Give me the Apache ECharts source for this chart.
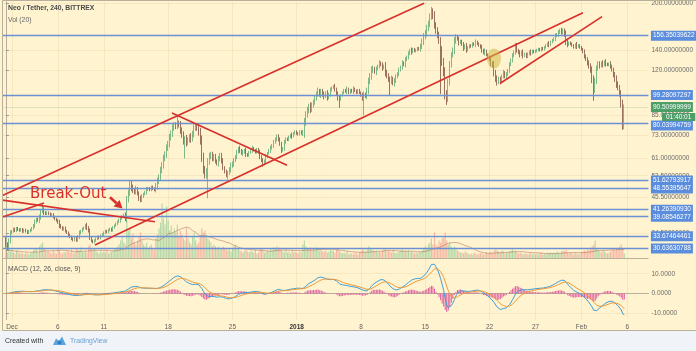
<!DOCTYPE html>
<html>
<head>
<meta charset="utf-8">
<title>Neo / Tether, 240, BITTREX</title>
<script src="https://cdn.jsdelivr.net/npm/echarts@6.0.0/dist/echarts.min.js"></script>
<style>
  html, body { margin: 0; padding: 0; background: #fff; }
  #chart { width: 696px; height: 351px; }
</style>
</head>
<body>
<div id="chart"></div>
<script>
// 4h candles. index 0 = Nov 30 08:00, index 4 = Dec 1 00:00, 6 candles a day
const firstOpen = 32.8;
const closes = [
  31.5, 30.8, 32.5, 34.5,                 // Nov 30
  35, 35.6, 35.1, 35.8, 35.4, 35.2,       // Dec 1
  35.5, 34.9, 35.3, 35, 34.6, 35,
  35.3, 35.8, 36.6, 37.5, 38.4, 38,
  39, 40.6, 41.2, 40.4, 40, 40.3,
  40, 39.4, 39.8, 39, 38.4, 38,           // Dec 5
  37.4, 36.6, 36, 35.5, 35.9, 35,
  34.6, 34, 33.5, 33, 32.7, 33.2,
  32.6, 33.6, 34.5, 35, 35.6, 35.9,
  36.6, 36, 35, 33.4, 32.5, 32.2,
  32.6, 33, 33.5, 33.2, 33.8, 34.1,       // Dec 10
  34.6, 35, 34.8, 35.3, 35.6, 35.2,
  36, 36.5, 37, 37.6, 38.1, 38.6,
  39.1, 39.6, 38.6, 44.5, 47.2, 50,
  49, 47.8, 47.3, 48.6, 46.5, 45,
  44.6, 45.6, 46.5, 47.2, 48.1, 48.6,     // Dec 15
  48, 49.1, 48.4, 48, 49.6, 51.2,
  53, 55.6, 58.2, 61, 63.2, 66,
  68.5, 71.5, 74.2, 77, 79, 78,
  80, 79, 76, 73, 70, 71,
  69, 70.5, 72, 71, 74, 77,               // Dec 20
  78, 77, 75, 70, 62, 56,
  54, 55, 60, 62, 63, 61,
  62, 60, 58.5, 61, 62.5, 60,
  57, 55, 54, 55, 56, 58,
  58.5, 60, 62, 64, 66, 65,               // Dec 25
  63.5, 64, 65, 63, 62.5, 64,
  65, 66, 65, 64, 65.5, 64,
  62, 60, 58.5, 60, 62, 63.5,
  65, 66, 67.5, 69, 71, 72,
  71, 68, 65, 66, 69, 71,                 // Dec 30
  70.5, 72, 73, 72.5, 74, 75,
  74, 73.5, 75, 74, 74.5, 80,             // Jan 1
  86, 88, 91, 89, 92, 94,
  97, 100, 103, 99, 102, 100,
  98, 101, 97, 100, 103, 105,
  106, 104, 100, 97, 96, 99,              // Jan 5
  101, 103, 102, 104, 101, 103,
  102, 104, 102.5, 101, 103, 101,
  99, 97, 100, 98, 103, 110,
  115, 120, 122, 118, 121, 124,
  127, 125, 122, 124, 118, 115,           // Jan 10
  112, 110, 113, 108, 111, 114,
  117, 120, 123, 127, 125, 130,
  133, 136, 140, 138, 141, 139,
  140, 142, 141, 144, 150, 155,
  160, 165, 172, 180, 187, 183,           // Jan 15
  170, 162, 158, 150, 140, 128,
  118, 100, 96, 110, 125, 135,
  140, 150, 155, 152, 148, 150,
  146, 142, 145, 140, 143, 145,
  144, 147, 146, 149, 147, 145,           // Jan 20
  143, 140, 137, 139, 135, 133,
  130, 126, 125, 118, 112, 110,
  112, 110, 115, 118, 114, 116,
  120, 125, 130, 134, 138, 145,
  140, 137, 135, 138, 134, 136,           // Jan 25
  133, 136, 138, 137, 139, 138,
  139, 140, 141, 140, 142, 141,
  143, 145, 147, 146, 149, 151,
  153, 156, 158, 160, 163, 161,
  162, 158, 150, 146, 148, 147,           // Jan 30
  145, 143, 146, 144, 145, 143,
  141, 138, 134, 130, 127, 124,           // Feb 1
  120, 112, 104, 110, 122, 126,
  124, 127, 125, 128, 126, 125,
  126, 124, 120, 116, 112, 108,
  105, 100, 93, 78, 90.5                  // Feb 5
];
// wick size in % for each candle, one group per day
const wickPct = ('2222 111111 111111 111211 221211 111111 121111 111111 112111 121211 111111 ' +
  '111111 111112 112323 322212 221121 111123 232323 232322 223232 322323 223343 332322 221222 ' +
  '212122 221212 121211 121111 212121 121212 212121 111211 111124 232322 222122 212121 121221 ' +
  '111211 121111 122123 232121 212132 222122 121212 121211 111223 232323 323233 343232 232121 ' +
  '121211 111211 121211 122323 221212 121212 212121 111211 111111 111211 121212 223211 111211 ' +
  '112122 233322 212121 121223 22332').replace(/ /g, '').split('').map(Number);
// long wicks: [candle index, price]
const longLows = [[117, 61], [132, 45], [145, 52], [218, 90], [234, 85], [251, 99], [284, 100], [288, 92], [384, 95], [403, 76]];
const longHighs = [[24, 43], [112, 85], [278, 195], [363, 166]];
const volumes = [
  8, 6, 10, 7,
  9, 6, 5, 8, 7, 5,    6, 5, 4, 6, 5, 4,    5, 6, 8, 10, 9, 6,   12, 14, 16, 10, 8, 7,
  7, 6, 5, 8, 6, 5,    9, 8, 6, 5, 7, 6,    8, 7, 6, 9, 5, 6,    10, 9, 8, 11, 7, 6,
  8, 6, 12, 14, 9, 8,  10, 7, 6, 5, 8, 6,   7, 6, 8, 5, 6, 7,    8, 9, 10, 12, 14, 18,
  22, 16, 14, 38, 28, 30,  20, 25, 16, 14, 18, 22,  26, 18, 14, 12, 16, 10,  12, 14, 10, 9, 20, 24,
  30, 36, 55, 40, 34, 52,  38, 28, 33, 25, 30, 26,  34, 22, 28, 24, 20, 18,  31, 20, 16, 14, 22, 26,
  18, 14, 16, 22, 30, 26,  28, 24, 20, 18, 16, 12,  14, 12, 10, 12, 9, 10,   12, 10, 9, 8, 10, 7,
  10, 12, 14, 9, 11, 8,    7, 6, 8, 9, 7, 6,        8, 7, 6, 9, 5, 6,         9, 10, 8, 6, 7, 8,
  7, 9, 8, 11, 10, 12,     9, 11, 8, 7, 6, 9,       6, 7, 5, 8, 6, 7,
  6, 5, 7, 6, 14, 18,      12, 10, 9, 11, 8, 10,    9, 11, 10, 8, 9, 7,       7, 8, 6, 7, 9, 8,
  8, 6, 9, 10, 7, 6,       5, 6, 5, 7, 4, 5,        5, 4, 6, 5, 4, 6,         7, 9, 8, 6, 9, 12,
  11, 9, 8, 7, 8, 6,       7, 6, 8, 9, 10, 7,       8, 7, 6, 8, 6, 5,         6, 7, 8, 9, 7, 8,
  7, 8, 6, 7, 6, 5,        6, 5, 7, 6, 8, 10,       12, 10, 14, 16, 20, 14,   26, 14, 12, 18, 16, 20,
  21, 26, 18, 14, 16, 12,  10, 12, 9, 8, 7, 6,      6, 5, 7, 6, 5, 4,         5, 4, 6, 5, 4, 5,
  5, 6, 4, 5, 6, 5,        6, 7, 5, 8, 9, 8,        7, 6, 8, 7, 5, 6,         6, 7, 8, 9, 7, 8,
  6, 5, 6, 5, 4, 5,        5, 4, 5, 6, 4, 5,        4, 5, 4, 6, 5, 4,         5, 4, 6, 5, 6, 5,
  6, 5, 7, 6, 5, 7,        8, 7, 9, 6, 5, 6,        5, 4, 6, 5, 4, 5,
  6, 7, 8, 7, 9, 8,        10, 12, 14, 18, 10, 8,   7, 6, 8, 7, 6, 5,         6, 7, 8, 9, 8, 10,
  10, 12, 14, 10, 5
];

const dateTickIdx = [4, 34, 64, 106, 148, 190, 232, 274, 316, 346, 376, 406];
const dateTickLabels = ['Dec', '6', '11', '18', '25', '2018', '8', '15', '22', '27', 'Feb', '6'];
const priceTicks = [200, 140, 120, 85, 73, 61, 53.5, 45.5, 34.5];
const levels = [156.35039622, 99.28097297, 80.03994759, 51.62793917, 48.55395647,
  41.2639093, 39.08546277, 33.67464461, 30.63630788];
const lastPrice = 90.50999999;
const countdown = '01:40:01';
const macdTicks = [-10, 0, 10];
// drawn trend lines, [candle index, price] pairs
const trendLines = [
  [[-2.2, 46.0], [273.2, 200.4]],
  [[-2.2, 39.0], [24.9, 43.4]],
  [[-2.2, 44.4], [97.4, 37.6]],
  [[58.2, 31.5], [377.0, 186.4]],
  [[322.8, 108.4], [389.5, 180.8]],
  [[108.5, 86.5], [183.7, 58.0]]
];
const breakOutAt = [15.8, 46.5];
const arrowFrom = [68.0, 45.4];
const arrowTo = [76.2, 41.6];
const circleAt = [318.9, 131.2];

// candles
const candles = [];
const volData = [];
let prevClose = firstOpen;
closes.forEach(function (c, i) {
  const o = prevClose;
  const w = wickPct[i] / 100;
  let hi = Math.max(o, c) * (1 + w);
  let lo = Math.min(o, c) * (1 - w);
  longLows.forEach(function (d) { if (d[0] === i) lo = d[1]; });
  longHighs.forEach(function (d) { if (d[0] === i) hi = d[1]; });
  candles.push([i, o, c, lo, hi]);
  volData.push({
    value: [i, volumes[i]],
    itemStyle: {color: c >= o ? 'rgba(105,190,130,0.5)' : 'rgba(238,125,115,0.5)'}
  });
  prevClose = c;
});

// Vol (20) moving average
const volMa = volumes.map(function (v, i) {
  const part = volumes.slice(Math.max(0, i - 19), i + 1);
  return [i, part.reduce(function (a, b) { return a + b; }, 0) / part.length];
});

// MACD (12, 26, close, 9)
function ema(src, n) {
  const k = 2 / (n + 1);
  let prev = src[0];
  return src.map(function (v, i) { prev = i === 0 ? v : v * k + prev * (1 - k); return prev; });
}
const e12 = ema(closes, 12), e26 = ema(closes, 26);
const macd = closes.map(function (v, i) { return e12[i] - e26[i]; });
const signal = ema(macd, 9);
const macdLine = macd.map(function (v, i) { return [i, v]; });
const signalLine = signal.map(function (v, i) { return [i, v]; });
const hist = macd.map(function (v, i) { return [i, v - signal[i]]; });

const xMin = -2.206, xMax = 419.8;
const font = 'Liberation Sans, Arial, sans-serif';
const gridColor = 'rgba(190,165,110,0.16)';
const frameColor = '#b8b09a';
const lineBlue = '#6b91d4';
const boxBlue = '#5a8ddd';
const boxGreen = '#4e9e6a';
const red = '#d8302b';

const chart = echarts.init(document.getElementById('chart'), null, {renderer: 'canvas'});

function xAxisBase(gridIndex) {
  return {
    type: 'value', gridIndex: gridIndex, min: xMin, max: xMax,
    axisLine: {show: false}, axisTick: {show: false, customValues: dateTickIdx},
    axisLabel: {show: false},
    splitLine: {show: true, lineStyle: {color: gridColor, width: 1}}
  };
}

function levelLabel(v, bg, dy) {
  return {
    show: true, position: 'end', distance: 2.5, color: '#fff', fontSize: 6.5,
    fontFamily: font, backgroundColor: bg, padding: [2, 2, 1, 2], offset: [0, dy],
    formatter: v.toFixed(8)
  };
}

const option = {
  animation: false,
  backgroundColor: '#fff3d0',
  textStyle: {fontFamily: font},
  grid: [
    {left: 2.5, right: 47.5, top: 1, bottom: 92.5},
    {left: 2.5, right: 47.5, top: 200, bottom: 92.5},
    {left: 2.5, right: 47.5, top: 259, bottom: 31.5}
  ],
  xAxis: [
    xAxisBase(0),
    Object.assign(xAxisBase(1), {splitLine: {show: false}}),
    Object.assign(xAxisBase(2), {
      axisLine: {show: true, lineStyle: {color: frameColor}},
      axisLabel: {
        show: true, customValues: dateTickIdx, margin: 4, fontSize: 6.5, color: '#5f5f5f',
        fontFamily: font,
        formatter: function (v) {
          const t = dateTickLabels[dateTickIdx.indexOf(Math.round(v))] || '';
          return t === '2018' ? '{b|2018}' : t;
        },
        rich: {b: {fontWeight: 'bold', color: '#333', fontSize: 6.5, fontFamily: font}}
      }
    })
  ],
  yAxis: [
    {
      type: 'log', gridIndex: 0, position: 'right', min: 28.39, max: 202.7,
      axisLine: {show: true, lineStyle: {color: frameColor}},
      axisTick: {show: true, length: 3, customValues: priceTicks, lineStyle: {color: '#999'}},
      axisLabel: {
        customValues: priceTicks, margin: 3, fontSize: 6.5, color: '#6b6b6b', fontFamily: font,
        formatter: function (v) { return Number(v).toFixed(8); }
      },
      splitLine: {show: true, lineStyle: {color: gridColor}}
    },
    {type: 'value', gridIndex: 1, min: 0, max: 58.5, show: false},
    {
      type: 'value', gridIndex: 2, position: 'right', min: -13.3, max: 17.5,
      axisLine: {show: true, lineStyle: {color: frameColor}},
      axisTick: {show: true, length: 3, customValues: macdTicks, lineStyle: {color: '#999'}},
      axisLabel: {
        customValues: macdTicks, margin: 3, fontSize: 6.5, color: '#6b6b6b', fontFamily: font,
        formatter: function (v) { return Number(v).toFixed(4); }
      },
      splitLine: {show: true, lineStyle: {color: gridColor}}
    }
  ],
  series: [
    {
      type: 'bar', xAxisIndex: 1, yAxisIndex: 1, data: volData, barWidth: 1.1, z: 1
    },
    {
      type: 'line', xAxisIndex: 1, yAxisIndex: 1, data: volMa, showSymbol: false, z: 1,
      lineStyle: {color: 'rgba(175,115,85,0.55)', width: 1}
    },
    {
      type: 'candlestick', xAxisIndex: 0, yAxisIndex: 0, data: candles, barWidth: 0.9, z: 3,
      itemStyle: {
        color: '#45a067', color0: '#6e3a2c',
        borderColor: '#45a067', borderColor0: '#6e3a2c', borderWidth: 0.7
      },
      markLine: {
        silent: true, symbol: ['none', 'none'], animation: false,
        data: levels.map(function (v, k) {
          return {
            yAxis: v,
            lineStyle: {color: lineBlue, width: 1.4, type: 'solid'},
            label: levelLabel(v, boxBlue, k === 2 ? 2.5 : 0)
          };
        }).concat([{
          yAxis: lastPrice,
          lineStyle: {color: 'rgba(110,160,120,0.45)', width: 1, type: 'dotted'},
          label: levelLabel(lastPrice, boxGreen, 0)
        }])
      }
    }
  ].concat(trendLines.map(function (l) {
    return {
      type: 'line', xAxisIndex: 0, yAxisIndex: 0, data: l, showSymbol: false, z: 5,
      lineStyle: {color: red, width: 1.6}
    };
  })).concat([
    {
      type: 'bar', xAxisIndex: 2, yAxisIndex: 2, data: hist, barWidth: 1,
      itemStyle: {color: '#de5e9e'}
    },
    {
      type: 'line', xAxisIndex: 2, yAxisIndex: 2, data: macdLine, showSymbol: false,
      lineStyle: {color: '#3d9fd9', width: 1}
    },
    {
      type: 'line', xAxisIndex: 2, yAxisIndex: 2, data: signalLine, showSymbol: false,
      lineStyle: {color: '#f09a38', width: 1}
    }
  ])
};
chart.setOption(option);

// annotations and frame drawn after the scales exist
function px(p) { return chart.convertToPixel({gridIndex: 0}, p); }
const a0 = px(arrowFrom), a1 = px(arrowTo);
const dx = a1[0] - a0[0], dy = a1[1] - a0[1], len = Math.sqrt(dx * dx + dy * dy);
const ux = dx / len, uy = dy / len;
const headLen = 8, headHalf = 4.5;
const bx = a1[0] - ux * headLen, by = a1[1] - uy * headLen;
const bo = px(breakOutAt), ci = px(circleAt);
const lastY = px([0, lastPrice])[1];

chart.setOption({
  graphic: [
    {type: 'rect', silent: true, z: -10, shape: {x: 0, y: 330.5, width: 696, height: 21},
      style: {fill: '#f0f3f7'}},
    {type: 'rect', silent: true, z: 10, shape: {x: 2.5, y: 0.5, width: 700, height: 330},
      style: {fill: 'none', stroke: frameColor, lineWidth: 1}},
    {type: 'line', silent: true, z: 10, shape: {x1: 2.5, y1: 258.5, x2: 648.5, y2: 258.5},
      style: {stroke: frameColor, lineWidth: 1}},
    {type: 'text', z: 20, style: {text: 'Neo / Tether, 240, BITTREX', x: 8, y: 8, fill: '#4a4a4a',
      font: 'bold 6.8px ' + font, verticalAlign: 'middle'}},
    {type: 'text', z: 20, style: {text: 'Vol (20)', x: 8, y: 20, fill: '#666',
      font: '6.8px ' + font, verticalAlign: 'middle'}},
    {type: 'text', z: 20, style: {text: 'MACD (12, 26, close, 9)', x: 8, y: 269, fill: '#555',
      font: '6.8px ' + font, verticalAlign: 'middle'}},
    {type: 'text', z: 20, style: {text: 'Break-Out', x: bo[0], y: bo[1], fill: red,
      font: '15px DejaVu Sans, sans-serif', verticalAlign: 'middle'}},
    {type: 'line', z: 20, shape: {x1: a0[0], y1: a0[1], x2: bx, y2: by},
      style: {stroke: red, lineWidth: 2.6}},
    {type: 'polygon', z: 20, shape: {points: [a1,
      [bx - uy * headHalf, by + ux * headHalf], [bx + uy * headHalf, by - ux * headHalf]]},
      style: {fill: red}},
    {type: 'circle', z: 20, x: ci[0], y: ci[1], scaleX: 0.7, shape: {cx: 0, cy: 0, r: 10},
      style: {fill: 'rgba(205,185,70,0.55)'}},
    {type: 'text', z: 30, style: {text: countdown, x: 662, y: lastY + 10, fill: '#fff',
      font: '6.5px ' + font, verticalAlign: 'middle', backgroundColor: boxGreen,
      padding: [1, 4, 0, 4]}},
    {type: 'text', z: 20, style: {text: 'Created with', x: 5, y: 341, fill: '#333',
      font: '6.8px ' + font, verticalAlign: 'middle'}},
    {type: 'polygon', z: 20, shape: {points: [[53, 345], [56, 338.5], [59, 341], [62, 336.5], [66, 345]]},
      style: {fill: '#5aa6dc'}},
    {type: 'circle', z: 21, shape: {cx: 59.5, cy: 342.5, r: 2}, style: {fill: '#2f7fc1'}},
    {type: 'text', z: 20, style: {text: 'TradingView', x: 70, y: 341, fill: '#6b9fd3',
      font: '6.8px ' + font, verticalAlign: 'middle'}}
  ]
});
</script>
</body>
</html>
